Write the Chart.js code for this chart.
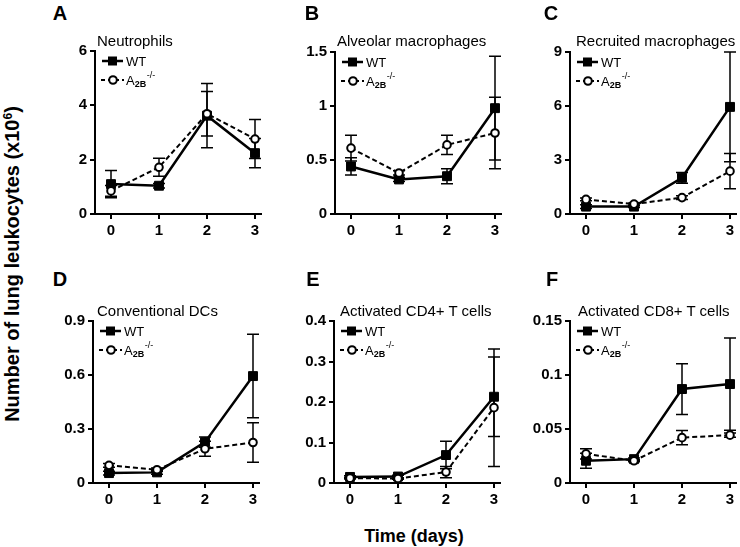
<!DOCTYPE html>
<html>
<head>
<meta charset="utf-8">
<script src="https://cdn.jsdelivr.net/npm/chart.js@4.4.1/dist/chart.umd.min.js"></script>
<style>
  body { margin: 0; background: #fff; }
  #wrap { position: relative; width: 740px; height: 547px; overflow: hidden; font-family: "Liberation Sans", Arial, sans-serif; color: #000; }
  #wrap canvas { position: absolute; }
  .txt { position: absolute; white-space: nowrap; line-height: 1; }
  .letter { font-size: 20px; font-weight: bold; transform: translate(-50%, -50%); }
  .title { font-size: 15px; transform: translate(0, -50%); }
  .axis-title { font-weight: bold; }
</style>
</head>
<body>
<div id="wrap"></div>
<script>
const days = [0, 1, 2, 3];

// A - Neutrophils
const neutWT = [1.10, 1.04, 3.62, 2.24];
const neutWTErr = [0.50, 0.08, 1.18, 0.54];
const neutKO = [0.85, 1.72, 3.69, 2.76];
const neutKOErr = [0.20, 0.33, 0.82, 0.72];
const neutTicks = [0, 2, 4, 6];

// B - Alveolar macrophages
const alvWT = [0.44, 0.32, 0.35, 0.98];
const alvWTErr = [0.08, 0.02, 0.07, 0.48];
const alvKO = [0.61, 0.38, 0.64, 0.75];
const alvKOErr = [0.12, 0.02, 0.09, 0.33];
const alvTicks = [0, 0.5, 1, 1.5];

// C - Recruited macrophages
const recWT = [0.41, 0.41, 2.01, 5.95];
const recWTErr = [0.10, 0.05, 0.30, 3.05];
const recKO = [0.81, 0.55, 0.91, 2.38];
const recKOErr = [0.08, 0.05, 0.10, 0.98];
const recTicks = [0, 3, 6, 9];

// D - Conventional DCs
const dcWT = [0.055, 0.059, 0.227, 0.594];
const dcWTErr = [0.010, 0.010, 0.028, 0.232];
const dcKO = [0.098, 0.074, 0.190, 0.225];
const dcKOErr = [0.010, 0.010, 0.042, 0.110];
const dcTicks = [0, 0.3, 0.6, 0.9];

// E - Activated CD4+ T cells
const cd4WT = [0.015, 0.016, 0.069, 0.213];
const cd4WTErr = [0.003, 0.003, 0.034, 0.098];
const cd4KO = [0.012, 0.011, 0.027, 0.186];
const cd4KOErr = [0.002, 0.002, 0.014, 0.145];
const cd4Ticks = [0, 0.1, 0.2, 0.3, 0.4];

// F - Activated CD8+ T cells
const cd8WT = [0.0206, 0.0221, 0.087, 0.0916];
const cd8WTErr = [0.007, 0.001, 0.0235, 0.0427];
const cd8KO = [0.027, 0.0206, 0.042, 0.0443];
const cd8KOErr = [0.0047, 0.001, 0.0066, 0.002];
const cd8Ticks = [0, 0.05, 0.1, 0.15];

const panels = [
  { letter: 'A', title: 'Neutrophils', wt: neutWT, wtErr: neutWTErr, ko: neutKO, koErr: neutKOErr, ticks: neutTicks },
  { letter: 'B', title: 'Alveolar macrophages', wt: alvWT, wtErr: alvWTErr, ko: alvKO, koErr: alvKOErr, ticks: alvTicks },
  { letter: 'C', title: 'Recruited macrophages', wt: recWT, wtErr: recWTErr, ko: recKO, koErr: recKOErr, ticks: recTicks },
  { letter: 'D', title: 'Conventional DCs', wt: dcWT, wtErr: dcWTErr, ko: dcKO, koErr: dcKOErr, ticks: dcTicks },
  { letter: 'E', title: 'Activated CD4+ T cells', wt: cd4WT, wtErr: cd4WTErr, ko: cd4KO, koErr: cd4KOErr, ticks: cd4Ticks },
  { letter: 'F', title: 'Activated CD8+ T cells', wt: cd8WT, wtErr: cd8WTErr, ko: cd8KO, koErr: cd8KOErr, ticks: cd8Ticks }
];

// plot area boxes (left, top, height) and label spots, in page pixels
const boxes = [
  { left: 95,  top: 51,  height: 163, letterX: 60,  letterY: 13,  titleX: 97,  titleY: 40 },
  { left: 335, top: 52,  height: 162, letterX: 312, letterY: 13,  titleX: 337, titleY: 40 },
  { left: 570, top: 52,  height: 162, letterX: 551, letterY: 13,  titleX: 576, titleY: 40 },
  { left: 93,  top: 321, height: 162, letterX: 60,  letterY: 279, titleX: 97,  titleY: 310 },
  { left: 334, top: 321, height: 162, letterX: 313, letterY: 279, titleX: 340, titleY: 310 },
  { left: 570, top: 321, height: 162, letterX: 552, letterY: 279, titleX: 578, titleY: 310 }
];

const FONT = '"Liberation Sans", Arial, sans-serif';
const PLOT_W = 166;
const Y_AXIS_W = 50;
const X_AXIS_H = 30;
const PAD_T = 14;
const PAD_R = 8;

const errorBars = {
  id: 'errorBars',
  beforeDatasetsDraw(chart) {
    const { ctx } = chart;
    const yScale = chart.scales.y;
    ctx.save();
    ctx.strokeStyle = '#000';
    ctx.lineWidth = 1.5;
    ctx.setLineDash([]);
    chart.data.datasets.forEach((ds, di) => {
      const meta = chart.getDatasetMeta(di);
      meta.data.forEach((pt, i) => {
        const v = ds.data[i].y;
        const e = ds.err[i];
        const yt = yScale.getPixelForValue(v + e);
        const yb = yScale.getPixelForValue(v - e);
        ctx.beginPath();
        ctx.moveTo(pt.x, yt); ctx.lineTo(pt.x, yb);
        ctx.moveTo(pt.x - 6, yt); ctx.lineTo(pt.x + 6, yt);
        ctx.moveTo(pt.x - 6, yb); ctx.lineTo(pt.x + 6, yb);
        ctx.stroke();
      });
    });
    ctx.restore();
  }
};

const panelLegend = {
  id: 'panelLegend',
  afterDraw(chart) {
    const { ctx, chartArea } = chart;
    const x0 = chartArea.left;
    const y0 = chartArea.top;
    ctx.save();
    ctx.strokeStyle = '#000';
    ctx.fillStyle = '#000';
    ctx.textBaseline = 'alphabetic';

    // WT row
    let y = y0 + 10;
    ctx.lineWidth = 2.5;
    ctx.beginPath(); ctx.moveTo(x0 + 7, y); ctx.lineTo(x0 + 28, y); ctx.stroke();
    ctx.fillRect(x0 + 13, y - 4.5, 9, 9);
    ctx.font = '13px ' + FONT;
    ctx.fillText('WT', x0 + 31, y + 5);

    // A2B-/- row
    y = y0 + 29;
    ctx.lineWidth = 2;
    ctx.setLineDash([4, 3]);
    ctx.beginPath(); ctx.moveTo(x0 + 6, y); ctx.lineTo(x0 + 29, y); ctx.stroke();
    ctx.setLineDash([]);
    ctx.beginPath(); ctx.arc(x0 + 18, y, 3.8, 0, Math.PI * 2);
    ctx.fillStyle = '#fff'; ctx.fill(); ctx.stroke();
    ctx.fillStyle = '#000';
    ctx.font = '13px ' + FONT;
    ctx.fillText('A', x0 + 31, y + 5);
    let tx = x0 + 31 + ctx.measureText('A').width;
    ctx.font = 'bold 9px ' + FONT;
    ctx.fillText('2B', tx, y + 7);
    tx += ctx.measureText('2B').width + 0.5;
    ctx.font = '9px ' + FONT;
    ctx.fillText('-/-', tx, y - 2);
    ctx.restore();
  }
};

function addText(cls, text, x, y) {
  const d = document.createElement('div');
  d.className = 'txt ' + cls;
  d.textContent = text;
  d.style.left = x + 'px';
  d.style.top = y + 'px';
  document.getElementById('wrap').appendChild(d);
  return d;
}

function axisStyle(padding) {
  return {
    grid: { drawOnChartArea: false, drawTicks: true, tickLength: 5, color: '#000', lineWidth: 2 },
    border: { display: true, color: '#000', width: 2 },
    ticks: {
      color: '#000',
      font: { family: FONT, size: 15, weight: 'bold' },
      maxRotation: 0,
      padding: padding,
      callback: v => String(v)
    }
  };
}

panels.forEach((p, idx) => {
  const b = boxes[idx];
  const canvas = document.createElement('canvas');
  const w = Y_AXIS_W + PLOT_W + PAD_R;
  const h = PAD_T + b.height + X_AXIS_H;
  canvas.width = w; canvas.height = h;
  canvas.style.width = w + 'px'; canvas.style.height = h + 'px';
  canvas.style.left = (b.left - Y_AXIS_W) + 'px';
  canvas.style.top = (b.top - PAD_T) + 'px';
  document.getElementById('wrap').appendChild(canvas);

  new Chart(canvas.getContext('2d'), {
    type: 'line',
    data: {
      datasets: [
        {
          label: 'WT',
          data: days.map((d, i) => ({ x: d, y: p.wt[i] })),
          err: p.wtErr,
          borderColor: '#000',
          borderWidth: 2.5,
          pointStyle: 'rect',
          pointRadius: 6.3,
          pointBackgroundColor: '#000',
          pointBorderColor: '#000',
          pointBorderWidth: 1,
          tension: 0,
          clip: false,
          order: 1
        },
        {
          label: 'A2B-/-',
          data: days.map((d, i) => ({ x: d, y: p.ko[i] })),
          err: p.koErr,
          borderColor: '#000',
          borderWidth: 2,
          borderDash: [5, 3],
          pointStyle: 'circle',
          pointRadius: 3.8,
          pointBackgroundColor: '#fff',
          pointBorderColor: '#000',
          pointBorderWidth: 2,
          tension: 0,
          clip: false,
          order: 0
        }
      ]
    },
    options: {
      responsive: false,
      animation: false,
      events: [],
      layout: { autoPadding: false, padding: { left: 0, top: PAD_T, right: PAD_R, bottom: 0 } },
      plugins: { legend: { display: false }, tooltip: { enabled: false } },
      scales: {
        x: Object.assign(axisStyle(3), {
          type: 'linear',
          min: -16 / 48,
          max: 3 + 6 / 48,
          afterBuildTicks: s => { s.ticks = days.map(v => ({ value: v })); },
          afterFit: s => { s.height = X_AXIS_H; }
        }),
        y: Object.assign(axisStyle(3), {
          type: 'linear',
          min: 0,
          max: p.ticks[p.ticks.length - 1],
          afterBuildTicks: s => { s.ticks = p.ticks.map(v => ({ value: v })); },
          afterFit: s => { s.width = Y_AXIS_W; }
        })
      }
    },
    plugins: [errorBars, panelLegend]
  });

  addText('letter', p.letter, b.letterX, b.letterY);
  addText('title', p.title, b.titleX, b.titleY);
});

// shared axis titles
const yTitle = addText('axis-title', '', 12, 264);
yTitle.style.fontSize = '20px';
yTitle.innerHTML = 'Number of lung leukocytes (x10<sup style="font-size:12px;vertical-align:7px">6</sup>)';
yTitle.style.transform = 'translate(-50%, -50%) rotate(-90deg)';
const xTitle = addText('axis-title', 'Time (days)', 414, 536);
xTitle.style.fontSize = '18px';
xTitle.style.transform = 'translate(-50%, -50%)';
</script>
</body>
</html>
